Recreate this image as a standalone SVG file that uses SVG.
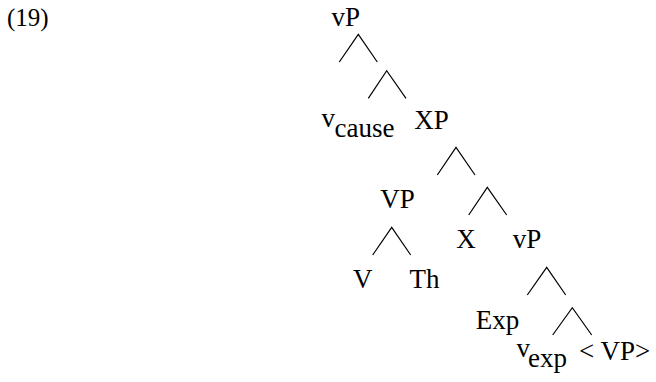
<svg xmlns="http://www.w3.org/2000/svg" width="656" height="382" viewBox="0 0 656 382">
<style>
text{font-family:"Liberation Serif","Times New Roman",serif;font-size:27px;fill:#000}
.e{fill:none;stroke:#000;stroke-width:1.2}
</style>
<rect width="656" height="382" fill="#fff"/>
<g id="label19"><text x="7" y="26" style="font-size:25px">(19)</text></g>
<g id="n-vP-top"><text x="331.5" y="26">vP</text></g>
<g id="n-vcause"><text x="321.5" y="126.7">v</text><text x="334.5" y="136.7">cause</text></g>
<g id="n-XP"><text x="414.3" y="129.3">XP</text></g>
<g id="n-VP"><text x="380.3" y="208.3">VP</text></g>
<g id="n-X"><text x="456.3" y="248.3">X</text></g>
<g id="n-vP2"><text x="512.8" y="248.3">vP</text></g>
<g id="n-V"><text x="353" y="288.3">V</text></g>
<g id="n-Th"><text x="409.6" y="288.3">Th</text></g>
<g id="n-Exp"><text x="475.7" y="329.3">Exp</text></g>
<g id="n-vexp"><text x="516.5" y="356.7">v</text><text x="528" y="366.7">exp</text></g>
<g id="n-VPtrace"><text x="579" y="360">&lt; VP&gt;</text></g>
<g id="connectors">
<polyline class="e" points="339.3,62 358.3,34.3 377.3,62"/>
<polyline class="e" points="368.3,98.3 386.7,70.7 406,98.3"/>
<polyline class="e" points="437.3,175 456,147.3 475,175"/>
<polyline class="e" points="468.7,215 487.3,187.3 506.7,215"/>
<polyline class="e" points="372.7,255 391.7,227.3 410.7,255"/>
<polyline class="e" points="527.3,295 546.7,267.3 565.7,295"/>
<polyline class="e" points="552.7,335 572.3,307.7 591.7,335"/>
</g>
</svg>
